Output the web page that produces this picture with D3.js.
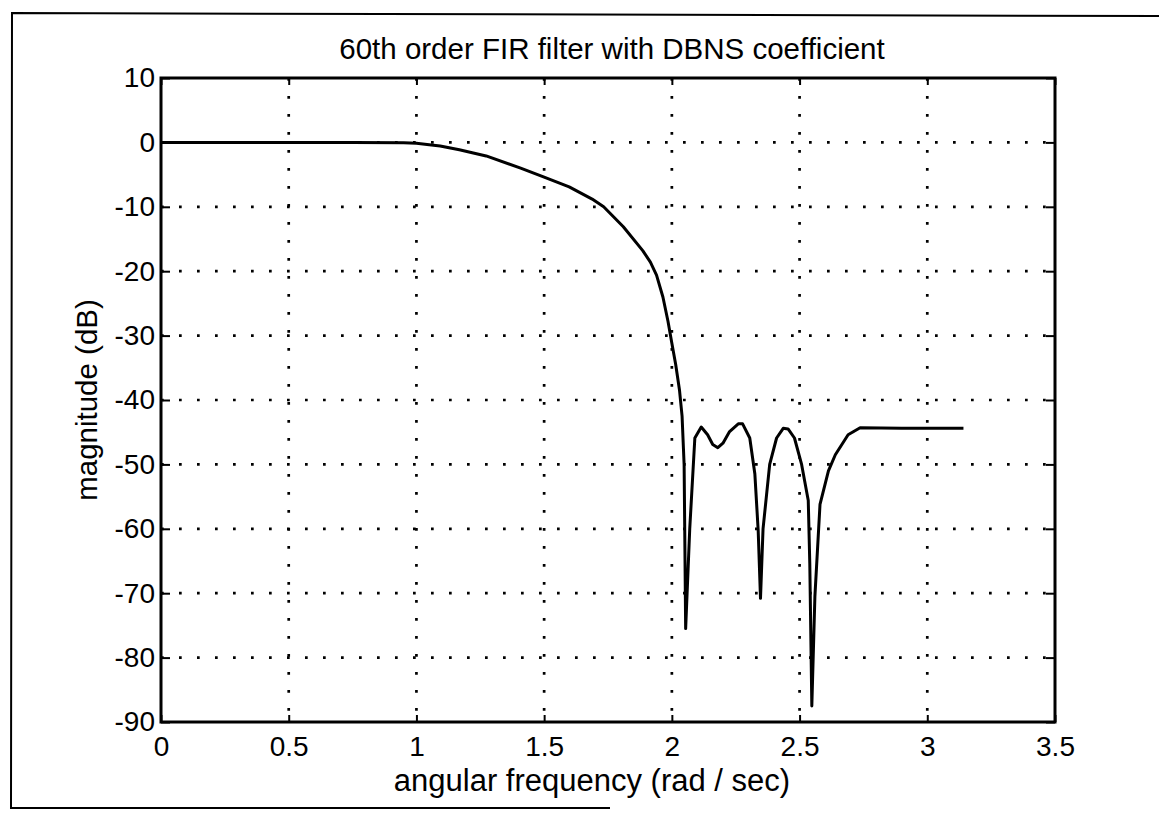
<!DOCTYPE html>
<html>
<head>
<meta charset="utf-8">
<script src="https://cdn.jsdelivr.net/npm/d3@7/dist/d3.min.js"></script>
<style>
  html, body { margin: 0; padding: 0; background: #fff; }
  svg { display: block; }
  text { font-family: "Liberation Sans", Arial, Helvetica, sans-serif; fill: #000; }
</style>
</head>
<body>
<svg id="chart" width="1159" height="813"></svg>
<script>
// Magnitude response of the 60th order FIR filter (DBNS coefficients)
const freq = [0, 0.25, 0.5, 0.75, 0.95, 1.0, 1.05, 1.093, 1.168, 1.273, 1.408, 1.5, 1.598, 1.688,
  1.733, 1.81, 1.886, 1.916, 1.94, 1.965, 1.985, 2.0, 2.015, 2.03, 2.04, 2.048, 2.054, 2.07, 2.09, 2.115,
  2.14, 2.16, 2.18, 2.2, 2.226, 2.26, 2.277, 2.305, 2.325, 2.338, 2.347, 2.357, 2.383, 2.41, 2.436,
  2.455, 2.48, 2.508, 2.534, 2.54, 2.548, 2.56, 2.58, 2.613, 2.64, 2.69, 2.737, 2.9, 3.1416];
const magnitude = [0, 0, 0, 0, -0.05, -0.15, -0.35, -0.55, -1.15, -2.1, -4.0, -5.4, -6.9, -8.8,
  -10, -13.1, -16.8, -18.6, -20.6, -24, -27.8, -31.2, -34.5, -38.5, -42.5, -50, -75.5, -60, -45.9, -44.2,
  -45.4, -46.9, -47.4, -46.7, -44.9, -43.7, -43.7, -45.9, -51.5, -60.3, -70.8, -60, -50, -45.9, -44.4,
  -44.5, -45.9, -50, -55.6, -65.4, -87.5, -70.5, -56.2, -51, -48.5, -45.4, -44.3, -44.4, -44.4];

const xTicks = [0, 0.5, 1, 1.5, 2, 2.5, 3, 3.5];
const yTicks = [10, 0, -10, -20, -30, -40, -50, -60, -70, -80, -90];

const titleText = "60th order FIR filter with DBNS coefficient";
const xLabelText = "angular frequency (rad / sec)";
const yLabelText = "magnitude (dB)";

const svg = d3.select("#chart");
const plot = { left: 161, right: 1055, top: 78, bottom: 722 };

const x = d3.scaleLinear().domain([0, 3.5]).range([plot.left, plot.right]);
const y = d3.scaleLinear().domain([-90, 10]).range([plot.bottom, plot.top]);

// outer figure frame (open on the right)
const frame = svg.append("g").attr("stroke", "#000").attr("stroke-width", 2).attr("fill", "none");
frame.append("path").attr("d", "M1159,16 L12,13 L11,808 L610,808");

// dotted grid
const grid = svg.append("g")
  .attr("stroke", "#000").attr("stroke-width", 2.7)
  .attr("stroke-dasharray", "2.7 15.3").attr("fill", "none");
grid.selectAll("line.gx").data(xTicks.slice(1, -1)).join("line")
  .attr("x1", d => x(d)).attr("x2", d => x(d))
  .attr("y1", plot.top).attr("y2", plot.bottom);
grid.selectAll("line.gy").data(yTicks.slice(1, -1)).join("line")
  .attr("x1", plot.left).attr("x2", plot.right)
  .attr("y1", d => y(d)).attr("y2", d => y(d));

// axes with inward ticks on all four sides
const fmt = d => String(d);
const axisStyle = g => {
  g.select(".domain").remove();
  g.selectAll(".tick line").attr("stroke", "#000").attr("stroke-width", 2);
  g.selectAll(".tick text").style("font-size", "28px");
};
svg.append("g").attr("transform", `translate(0,${plot.bottom})`)
  .call(d3.axisBottom(x).tickValues(xTicks).tickFormat(fmt).tickSizeInner(-7).tickPadding(14))
  .call(axisStyle)
  .selectAll(".tick text").attr("dy", "0.71em").attr("y", 14);
svg.append("g").attr("transform", `translate(0,${plot.top})`)
  .call(d3.axisTop(x).tickValues(xTicks).tickFormat("").tickSizeInner(-7))
  .call(axisStyle);
svg.append("g").attr("transform", `translate(${plot.left},0)`)
  .call(d3.axisLeft(y).tickValues(yTicks).tickFormat(fmt).tickSizeInner(-9).tickPadding(6))
  .call(axisStyle)
  .selectAll(".tick text").attr("x", -6);
svg.append("g").attr("transform", `translate(${plot.right},0)`)
  .call(d3.axisRight(y).tickValues(yTicks).tickFormat("").tickSizeInner(-9))
  .call(axisStyle);

// axes box
svg.append("rect")
  .attr("x", plot.left).attr("y", plot.top)
  .attr("width", plot.right - plot.left).attr("height", plot.bottom - plot.top)
  .attr("fill", "none").attr("stroke", "#000").attr("stroke-width", 3);

// response curve
const pts = freq.map((f, i) => [f, magnitude[i]]);
svg.append("path")
  .datum(pts)
  .attr("fill", "none").attr("stroke", "#000").attr("stroke-width", 3)
  .attr("stroke-linejoin", "round")
  .attr("d", d3.line().x(d => x(d[0])).y(d => y(d[1])));

// labels
svg.append("text").attr("x", 612).attr("y", 59)
  .attr("text-anchor", "middle").style("font-size", "29.5px").text(titleText);
svg.append("text").attr("x", 592).attr("y", 791)
  .attr("text-anchor", "middle").style("font-size", "31px").text(xLabelText);
svg.append("text")
  .attr("transform", `translate(97,${(plot.top + plot.bottom) / 2}) rotate(-90)`)
  .attr("text-anchor", "middle").style("font-size", "29.5px").text(yLabelText);
</script>
</body>
</html>
